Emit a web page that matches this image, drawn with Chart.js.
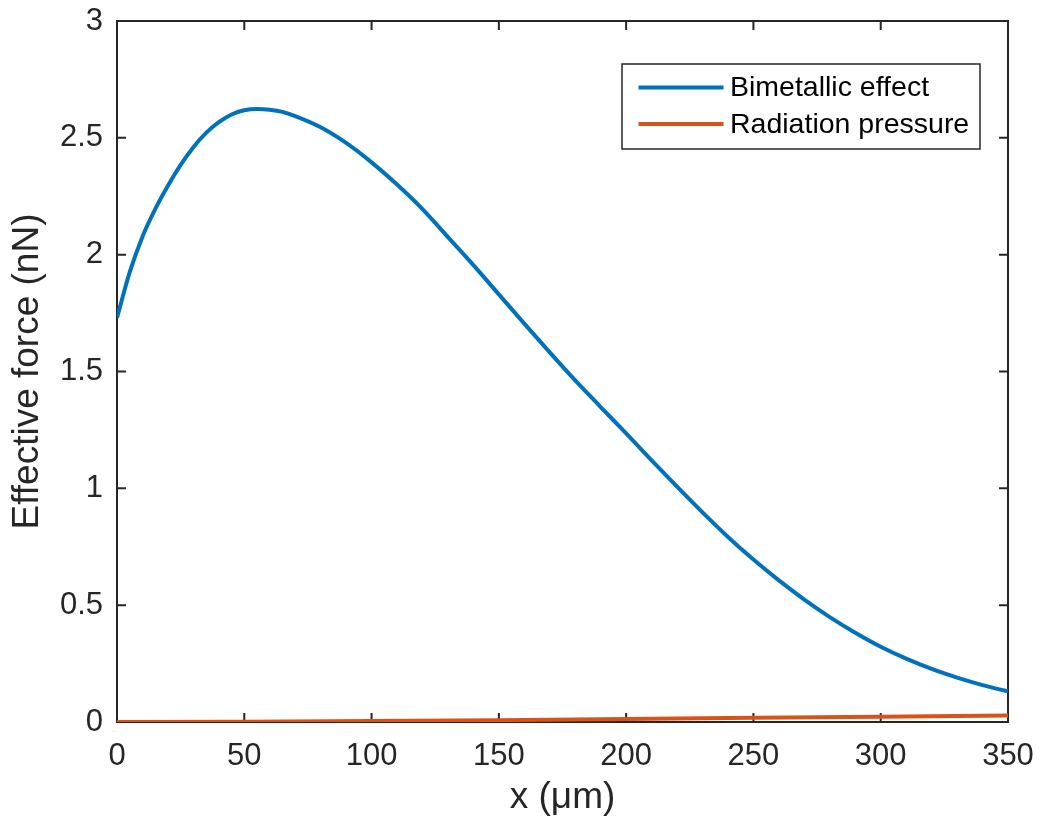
<!DOCTYPE html>
<html>
<head>
<meta charset="utf-8">
<script src="https://cdn.jsdelivr.net/npm/chart.js@4.4.1/dist/chart.umd.min.js"></script>
<style>
  html, body { margin: 0; padding: 0; background: #fff; }
  #wrap { width: 1044px; height: 827px; position: relative; }
</style>
</head>
<body>
<div id="wrap"><canvas id="c" width="1044" height="827"></canvas></div>
<script>
// ---- data ----
const xBimetal = [0, 5, 10, 15, 20, 25, 30, 35, 40, 45, 50, 55, 60, 65, 70, 80, 90, 100, 110, 120, 130, 140, 150, 160, 170, 180, 190, 200, 210, 220, 230, 240, 250, 260, 270, 280, 290, 300, 310, 320, 330, 340, 350];
const yBimetal = [1.73, 1.925, 2.077, 2.195, 2.295, 2.384, 2.46, 2.521, 2.567, 2.60, 2.618, 2.623, 2.62, 2.611, 2.593, 2.545, 2.478, 2.395, 2.30, 2.195, 2.075, 1.955, 1.83, 1.705, 1.582, 1.462, 1.348, 1.235, 1.12, 1.007, 0.897, 0.792, 0.695, 0.606, 0.524, 0.449, 0.382, 0.322, 0.271, 0.227, 0.19, 0.158, 0.131];
const xRadiation = [0, 50, 100, 150, 200, 250, 300, 350];
const yRadiation = [0, 0.001, 0.004, 0.008, 0.013, 0.018, 0.023, 0.028];
const seriesLabels = ['Bimetallic effect', 'Radiation pressure'];
const xTicks = [0, 50, 100, 150, 200, 250, 300, 350];
const yTicks = [0, 0.5, 1, 1.5, 2, 2.5, 3];
const xTitle = 'x (\u03BCm)';
const yTitle = 'Effective force (nN)';

const toPts = (xs, ys) => xs.map((x, i) => ({x: x, y: ys[i]}));
const AXIS = '#262626';
const FONT = "'Liberation Sans', Arial, Helvetica, sans-serif";

// frame with inward ticks on all four sides
const framePlugin = {
  id: 'frame',
  beforeDatasetsDraw(chart) {
    const {ctx, chartArea: a, scales: {x, y}} = chart;
    ctx.save();
    ctx.strokeStyle = AXIS;
    ctx.lineWidth = 2;
    ctx.beginPath();
    const L = 9;
    xTicks.forEach(v => {
      const px = x.getPixelForValue(v);
      ctx.moveTo(px, a.bottom); ctx.lineTo(px, a.bottom - L);
      ctx.moveTo(px, a.top); ctx.lineTo(px, a.top + L);
    });
    yTicks.forEach(v => {
      const py = y.getPixelForValue(v);
      ctx.moveTo(a.left, py); ctx.lineTo(a.left + L, py);
      ctx.moveTo(a.right, py); ctx.lineTo(a.right - L, py);
    });
    ctx.stroke();
    ctx.strokeRect(a.left, a.top, a.right - a.left, a.bottom - a.top);
    ctx.restore();
  }
};

// legend box inside plot area (top-right)
const legendPlugin = {
  id: 'boxLegend',
  afterDatasetsDraw(chart) {
    const {ctx, chartArea: a} = chart;
    const bx = a.right - 386, by = a.top + 43, bw = 358, bh = 85;
    ctx.save();
    ctx.fillStyle = '#fff';
    ctx.fillRect(bx, by, bw, bh);
    ctx.strokeStyle = AXIS;
    ctx.lineWidth = 1.5;
    ctx.strokeRect(bx, by, bw, bh);
    ctx.font = '28.5px ' + FONT;
    ctx.textBaseline = 'middle';
    ctx.textAlign = 'left';
    chart.data.datasets.forEach((ds, i) => {
      const ly = by + 23.5 + i * 36.6;
      ctx.strokeStyle = ds.borderColor;
      ctx.lineWidth = 4;
      ctx.beginPath();
      ctx.moveTo(bx + 16.5, ly); ctx.lineTo(bx + 101.5, ly);
      ctx.stroke();
      ctx.fillStyle = '#000';
      ctx.fillText(ds.label, bx + 108, ly + 1);
    });
    ctx.restore();
  }
};

new Chart(document.getElementById('c'), {
  type: 'line',
  data: {
    datasets: [
      { label: seriesLabels[0], data: toPts(xBimetal, yBimetal), borderColor: '#0072BD', borderWidth: 4, pointRadius: 0, cubicInterpolationMode: 'monotone', fill: false },
      { label: seriesLabels[1], data: toPts(xRadiation, yRadiation), borderColor: '#D95319', borderWidth: 4, pointRadius: 0, fill: false }
    ]
  },
  options: {
    responsive: false,
    animation: false,
    devicePixelRatio: 1,
    layout: { padding: { left: 0, right: 36, top: 21, bottom: 0 } },
    plugins: { legend: { display: false }, tooltip: { enabled: false } },
    scales: {
      x: {
        type: 'linear', min: 0, max: 350,
        afterBuildTicks: s => { s.ticks = xTicks.map(v => ({value: v})); },
        afterFit: s => { s.height = 105; s.paddingLeft = 0; s.paddingRight = 0; },
        grid: { display: false, drawTicks: false },
        border: { display: false },
        ticks: { color: AXIS, font: { size: 31, family: FONT }, padding: 16, maxRotation: 0, autoSkip: false, callback: v => String(v) },
        title: { display: true, text: xTitle, color: AXIS, font: { size: 37, family: FONT }, padding: { top: 0, bottom: 7 } }
      },
      y: {
        type: 'linear', min: 0, max: 3,
        afterBuildTicks: s => { s.ticks = yTicks.map(v => ({value: v})); },
        afterFit: s => { s.width = 117; s.paddingTop = 0; s.paddingBottom = 0; },
        grid: { display: false, drawTicks: false },
        border: { display: false },
        ticks: { color: AXIS, font: { size: 31, family: FONT }, padding: 14, autoSkip: false, callback: v => String(v) },
        title: { display: true, text: yTitle, color: AXIS, font: { size: 37, family: FONT }, padding: { top: 6, bottom: 0 } }
      }
    }
  },
  plugins: [framePlugin, legendPlugin]
});
</script>
</body>
</html>
